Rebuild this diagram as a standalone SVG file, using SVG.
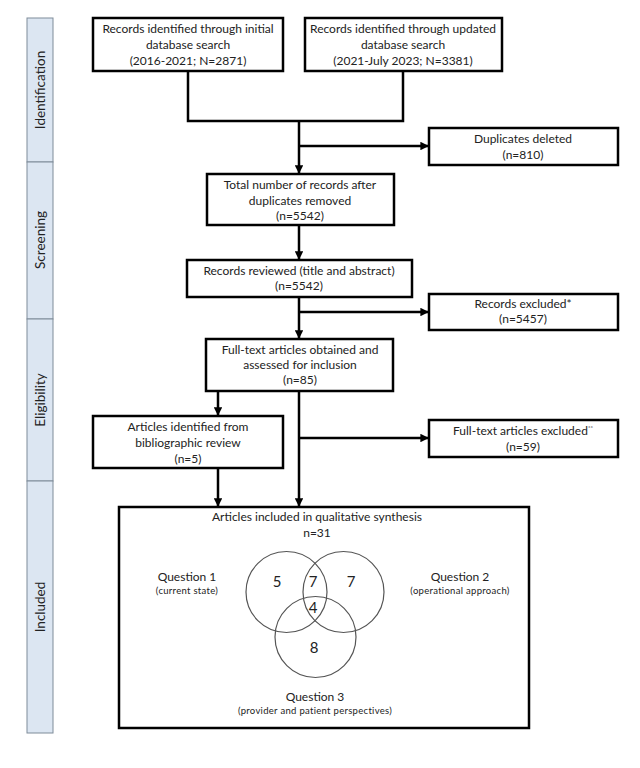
<svg xmlns="http://www.w3.org/2000/svg" width="640" height="768" viewBox="0 0 640 768">
<defs>
<marker id="ah" viewBox="0 0 10 10" refX="9" refY="5" markerWidth="3.4" markerHeight="3.4" orient="auto" markerUnits="strokeWidth">
<path d="M0,0 L10,5 L0,10 z" fill="#000"/>
</marker>
</defs>
<style>
.box{fill:#fff;stroke:#000;stroke-width:2.5}
.side{fill:#dce6f2;stroke:#7f8c99;stroke-width:1}
.t{font-family:Lato,"Liberation Sans",sans-serif;font-size:12px;fill:#222;text-anchor:middle}
.s{font-family:Lato,"Liberation Sans",sans-serif;font-size:9.5px;letter-spacing:0.3px;fill:#222;text-anchor:middle}
.st{font-family:Lato,"Liberation Sans",sans-serif;font-size:13.5px;fill:#222;text-anchor:middle}
.n{font-family:Lato,"Liberation Sans",sans-serif;font-size:15px;fill:#222;text-anchor:middle}
.c{fill:none;stroke:#555;stroke-width:1.2}
.ln{fill:none;stroke:#000;stroke-width:2.5}
.ar{fill:none;stroke:#000;stroke-width:2.5;marker-end:url(#ah)}
</style>
<rect width="640" height="768" fill="#fff"/>
<g id="sidebar">
<rect class="side" x="27" y="18" width="26" height="144"/>
<rect class="side" x="27" y="162" width="26" height="157"/>
<rect class="side" x="27" y="319" width="26" height="162"/>
<rect class="side" x="27" y="481" width="26" height="252"/>
<text class="st" transform="translate(45,90) rotate(-90)">Identification</text>
<text class="st" transform="translate(45,240) rotate(-90)">Screening</text>
<text class="st" transform="translate(45,400) rotate(-90)">Eligibility</text>
<text class="st" transform="translate(45,607) rotate(-90)">Included</text>
</g>
<g id="connectors">
<polyline class="ln" points="188,71 188,121 403,121 403,71"/>
<line class="ar" x1="299" y1="121" x2="299" y2="173"/>
<line class="ar" x1="299" y1="146" x2="428" y2="146"/>
<line class="ar" x1="299" y1="225" x2="299" y2="259"/>
<line class="ar" x1="299" y1="297" x2="299" y2="338"/>
<line class="ar" x1="299" y1="312" x2="428" y2="312"/>
<line class="ar" x1="218" y1="391" x2="218" y2="415"/>
<line class="ar" x1="299" y1="391" x2="299" y2="506"/>
<line class="ar" x1="299" y1="438" x2="428" y2="438"/>
<line class="ar" x1="218" y1="468" x2="218" y2="506"/>
</g>
<g id="n1">
<rect class="box" x="93" y="18" width="190" height="53"/>
<text class="t" x="188" y="33">Records identified through initial</text>
<text class="t" x="188" y="49">database search</text>
<text class="t" x="188" y="65">(2016-2021; N=2871)</text>
</g>
<g id="n2">
<rect class="box" x="305" y="18" width="197" height="53"/>
<text class="t" x="403" y="33">Records identified through updated</text>
<text class="t" x="403" y="49">database search</text>
<text class="t" x="403" y="65">(2021-July 2023; N=3381)</text>
</g>
<g id="n3">
<rect class="box" x="429" y="128" width="189" height="37"/>
<text class="t" x="523" y="143">Duplicates deleted</text>
<text class="t" x="523" y="159">(n=810)</text>
</g>
<g id="n4">
<rect class="box" x="207" y="174" width="187" height="51"/>
<text class="t" x="300" y="189">Total number of records after</text>
<text class="t" x="300" y="205">duplicates removed</text>
<text class="t" x="300" y="220">(n=5542)</text>
</g>
<g id="n5">
<rect class="box" x="187" y="260" width="225" height="37"/>
<text class="t" x="299" y="275">Records reviewed (title and abstract)</text>
<text class="t" x="299" y="290">(n=5542)</text>
</g>
<g id="n6">
<rect class="box" x="429" y="294" width="189" height="36"/>
<text class="t" x="523" y="308">Records excluded*</text>
<text class="t" x="523" y="323">(n=5457)</text>
</g>
<g id="n7">
<rect class="box" x="206" y="339" width="187" height="52"/>
<text class="t" x="300" y="354">Full-text articles obtained and</text>
<text class="t" x="300" y="369">assessed for inclusion</text>
<text class="t" x="300" y="384">(n=85)</text>
</g>
<g id="n8">
<rect class="box" x="93" y="416" width="190" height="52"/>
<text class="t" x="188" y="431">Articles identified from</text>
<text class="t" x="188" y="447">bibliographic review</text>
<text class="t" x="188" y="463">(n=5)</text>
</g>
<g id="n9">
<rect class="box" x="429" y="420" width="189" height="37"/>
<text class="t" x="523" y="435">Full-text articles excluded<tspan font-size="6" dy="-5">**</tspan></text>
<text class="t" x="523" y="451">(n=59)</text>
</g>
<g id="n10">
<rect class="box" x="119" y="507" width="410" height="221" stroke-width="3"/>
<text class="t" x="317" y="521">Articles included in qualitative synthesis</text>
<text class="t" x="317" y="537">n=31</text>
<circle class="c" cx="286.5" cy="592" r="40.5"/>
<circle class="c" cx="343.5" cy="592" r="40.5"/>
<circle class="c" cx="315.5" cy="637" r="40.5"/>
<text class="n" x="277" y="587">5</text>
<text class="n" x="313" y="587">7</text>
<text class="n" x="351" y="587">7</text>
<text class="n" x="313" y="613">4</text>
<text class="n" x="314" y="653">8</text>
<text class="t" x="187" y="581">Question 1</text>
<text class="s" x="187" y="594">(current  state)</text>
<text class="t" x="460" y="581">Question 2</text>
<text class="s" x="460" y="594">(operational  approach)</text>
<text class="t" x="315" y="701">Question 3</text>
<text class="s" x="315" y="714">(provider  and  patient  perspectives)</text>
</g>
</svg>
